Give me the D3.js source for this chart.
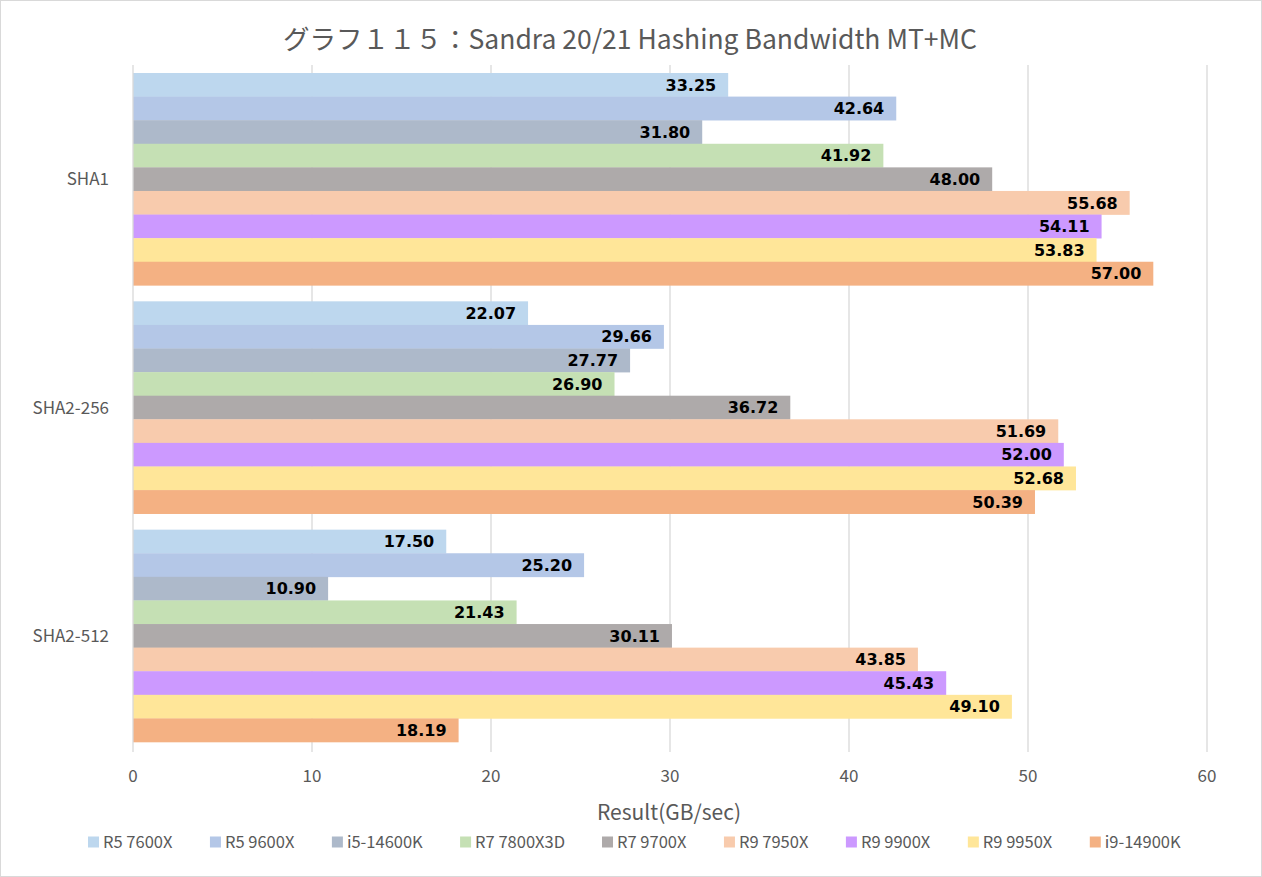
<!DOCTYPE html>
<html><head><meta charset="utf-8">
<script src="https://cdn.jsdelivr.net/npm/d3@7"></script>
<style>
html,body{margin:0;padding:0;background:#fff;}
svg{display:block;}
text{font-family:"Noto Sans CJK JP","Noto Sans",sans-serif;}
text.val{font-family:"DejaVu Sans",sans-serif;}
</style></head>
<body>
<svg id="chart" width="1262" height="877"></svg>
<script>
const title = "グラフ１１５：Sandra 20/21 Hashing Bandwidth MT+MC";
const categories = ["SHA1", "SHA2-256", "SHA2-512"];
const seriesNames = ["R5 7600X","R5 9600X","i5-14600K","R7 7800X3D","R7 9700X","R9 7950X","R9 9900X","R9 9950X","i9-14900K"];
const seriesColors = ["#BDD7EE","#B4C7E7","#ADB9CA","#C5E0B4","#AEAAAA","#F8CBAD","#CC99FF","#FFE699","#F4B183"];
const sha1 = [33.25, 42.64, 31.80, 41.92, 48.00, 55.68, 54.11, 53.83, 57.00];
const sha2_256 = [22.07, 29.66, 27.77, 26.90, 36.72, 51.69, 52.00, 52.68, 50.39];
const sha2_512 = [17.50, 25.20, 10.90, 21.43, 30.11, 43.85, 45.43, 49.10, 18.19];
const values = [sha1, sha2_256, sha2_512];
const xTicks = [0,10,20,30,40,50,60];
const xTitle = "Result(GB/sec)";

const svg = d3.select("#chart");
const W = 1262, H = 877;
svg.append("rect").attr("x",0.5).attr("y",0.5).attr("width",W-1).attr("height",H-1)
  .attr("fill","#fff").attr("stroke","#d9d9d9");

const plot = {left:133, right:1207, top:65, bottom:750};
const x = d3.scaleLinear().domain([0,60]).range([plot.left, plot.right]);
const y0 = d3.scaleBand().domain(categories).range([plot.top, plot.bottom]).paddingInner(0.07).paddingOuter(0.035);
const y1 = d3.scaleBand().domain(seriesNames).range([0, y0.bandwidth()]);

// gridlines
svg.append("g").selectAll("line").data(xTicks.slice(1)).join("line")
  .attr("x1",d=>x(d)).attr("x2",d=>x(d)).attr("y1",plot.top).attr("y2",plot.bottom+2)
  .attr("stroke","#d9d9d9").attr("stroke-width",1.3);

// bars
const groups = svg.append("g").selectAll("g").data(categories).join("g")
  .attr("transform",(c)=>`translate(0,${y0(c)})`);
groups.each(function(c,ci){
  const g = d3.select(this);
  const data = seriesNames.map((s,i)=>({s, v: values[ci][i], color: seriesColors[i]}));
  g.selectAll("rect").data(data).join("rect")
    .attr("x", x(0)).attr("y", d=>y1(d.s)).attr("width", d=>x(d.v)-x(0)).attr("height", y1.bandwidth()+0.3)
    .attr("fill", d=>d.color);
  g.selectAll("text").data(data).join("text").attr("class","val")
    .attr("x", d=>x(d.v)-12).attr("y", d=>y1(d.s)+y1.bandwidth()/2)
    .attr("dy","0.36em").attr("text-anchor","end")
    .attr("font-size",16).attr("font-weight","bold").attr("fill","#000")
    .text(d=>d.v.toFixed(2));
});

// category axis line
svg.append("line").attr("x1",plot.left).attr("x2",plot.left).attr("y1",plot.top).attr("y2",plot.bottom+2)
  .attr("stroke","#d9d9d9").attr("stroke-width",1.3);

// category labels
svg.append("g").selectAll("text").data(categories).join("text")
  .attr("x", 109).attr("y", c=>y0(c)+y0.bandwidth()/2)
  .attr("dy","0.36em").attr("text-anchor","end")
  .attr("font-size",17).attr("fill","#595959").text(c=>c);

// x tick labels
svg.append("g").selectAll("text").data(xTicks).join("text")
  .attr("x", d=>x(d)).attr("y", 776).attr("dy","0.36em").attr("text-anchor","middle")
  .attr("font-size",17).attr("fill","#595959").text(d=>d);

// axis title
svg.append("text").attr("x", 669).attr("y", 812).attr("dy","0.36em")
  .attr("text-anchor","middle").attr("font-size",21).attr("fill","#595959").text(xTitle);

// title
svg.append("text").attr("x", 630).attr("y", 39).attr("dy","0.36em")
  .attr("text-anchor","middle").attr("font-size",26.5).attr("fill","#595959").text(title);

// legend
const leg = svg.append("g");
const items = leg.selectAll("g").data(seriesNames).join("g");
items.append("rect").attr("width",11).attr("height",11).attr("y",-5.5).attr("fill",(d,i)=>seriesColors[i]);
items.append("text").attr("x",15).attr("dy","0.36em").attr("font-size",16.5).attr("fill","#595959").text(d=>d);
let widths = [];
items.each(function(){ widths.push(this.getBBox().width); });
const startX = 88, endX = 1181;
const gap = (endX - startX - d3.sum(widths)) / (widths.length-1);
let cx = startX;
items.attr("transform",(d,i)=>{ const t=`translate(${cx},842)`; cx += widths[i]+gap; return t; });
</script>
</body></html>
